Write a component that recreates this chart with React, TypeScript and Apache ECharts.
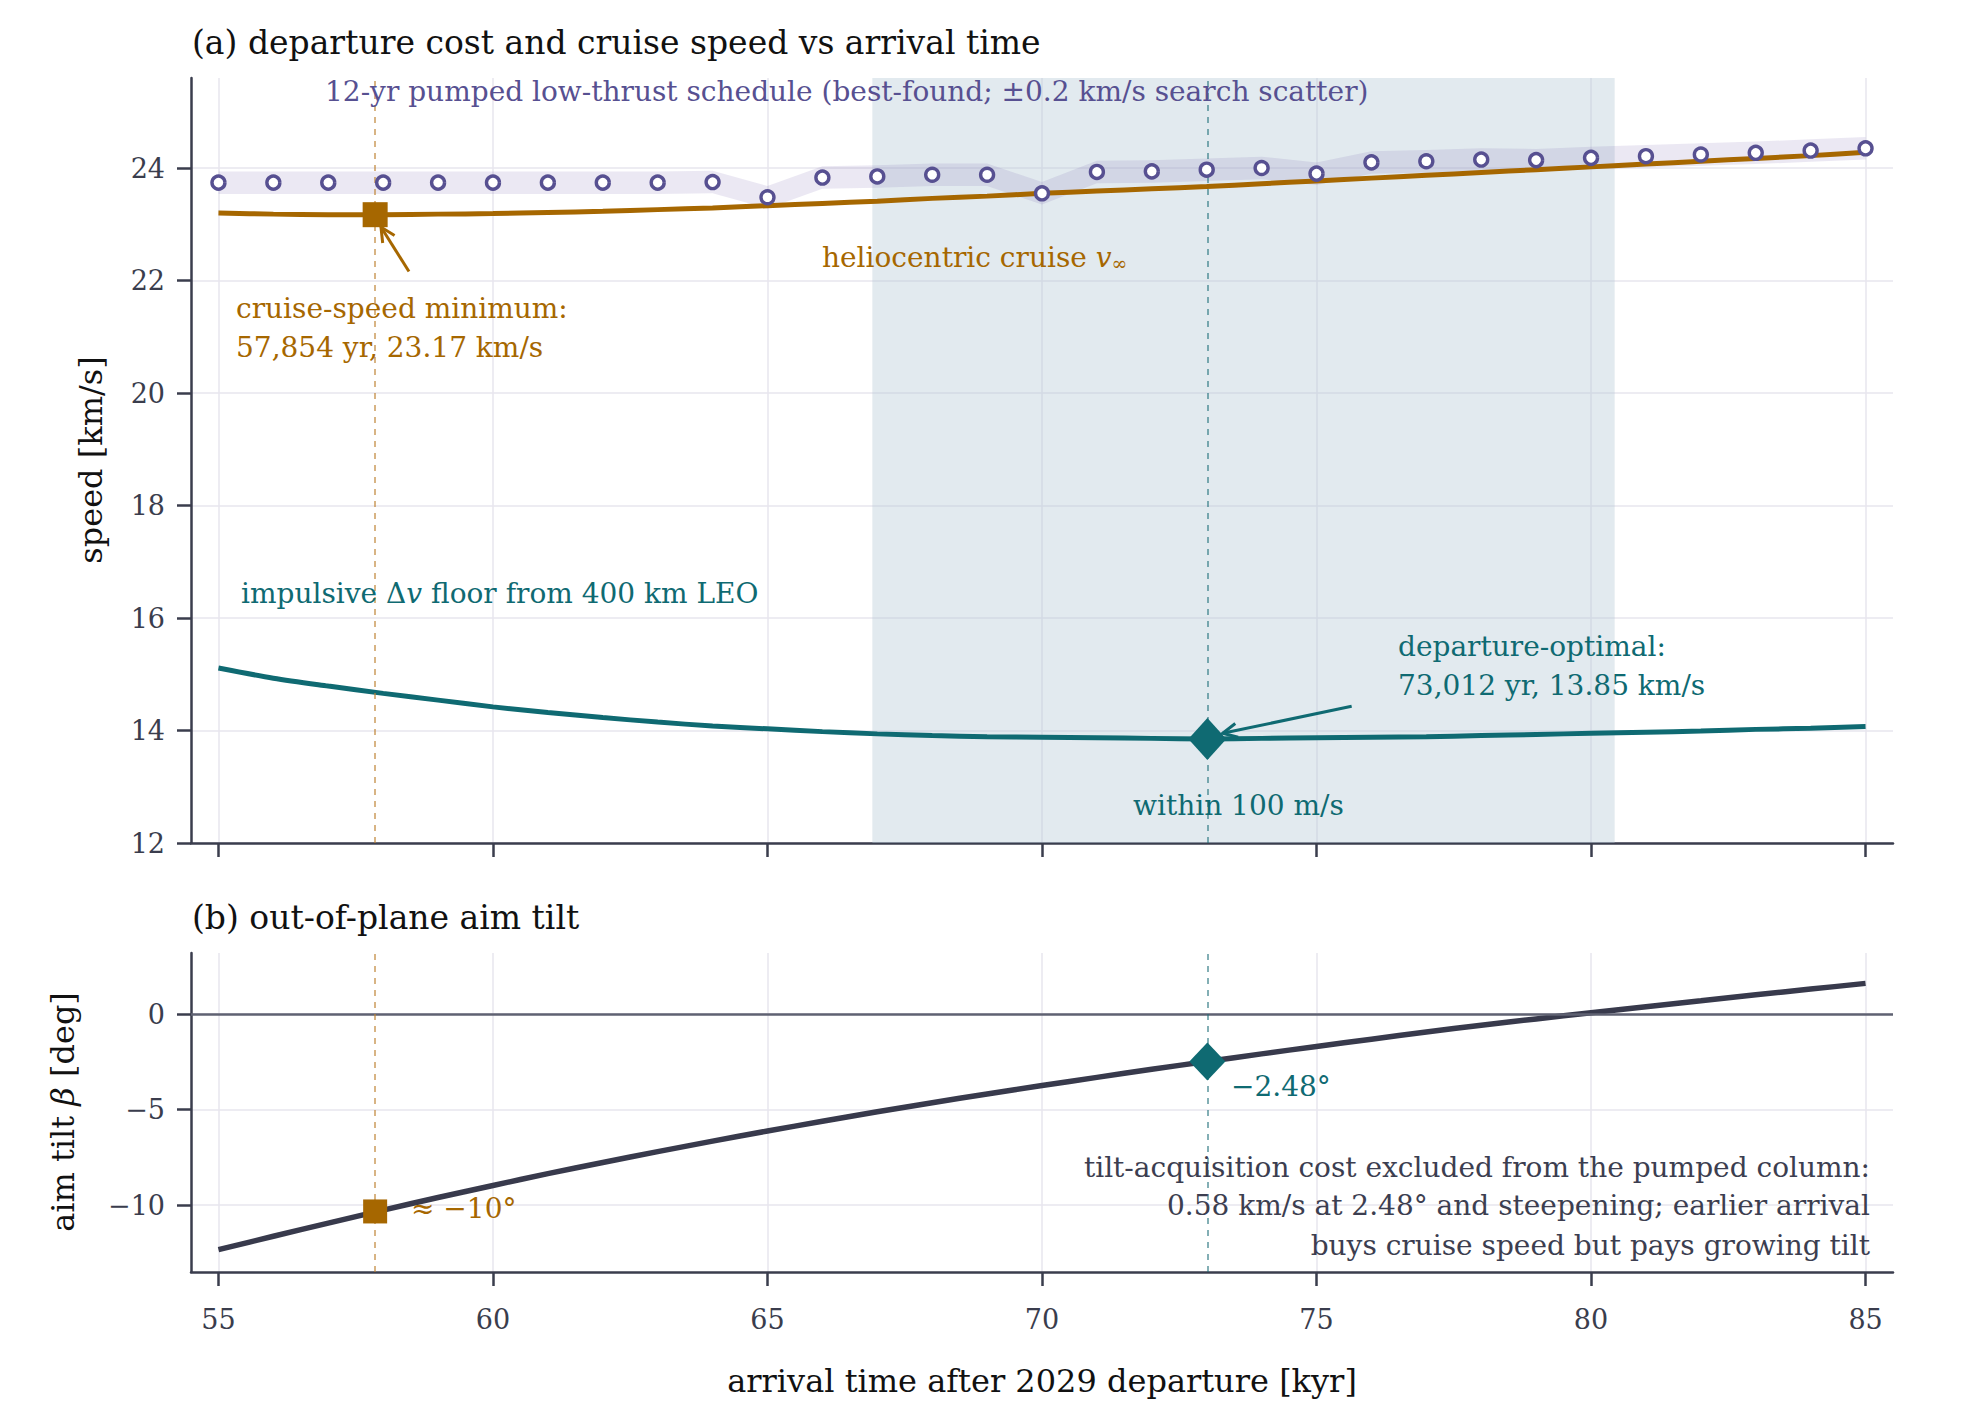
import React, { useEffect, useRef } from "react";
import * as echarts from "echarts";

// ---------- data ----------
const X_TICKS = [55, 60, 65, 70, 75, 80, 85];
const SPEED_TICKS = [12, 14, 16, 18, 20, 22, 24];
const TILT_TICKS = [-10, -5, 0];

const ARRIVAL_KYR = [55, 56, 57, 58, 59, 60, 61, 62, 63, 64, 65, 66, 67, 68, 69, 70, 71, 72, 73, 74, 75, 76, 77, 78, 79, 80, 81, 82, 83, 84, 85];
const CRUISE_VINF = [23.2, 23.18, 23.17, 23.17, 23.18, 23.19, 23.21, 23.23, 23.26, 23.29, 23.33, 23.37, 23.41, 23.46, 23.5, 23.55, 23.59, 23.63, 23.67, 23.72, 23.77, 23.82, 23.87, 23.92, 23.97, 24.02, 24.07, 24.12, 24.17, 24.22, 24.28];
const DV_FLOOR = [15.11, 14.93, 14.79, 14.66, 14.54, 14.42, 14.32, 14.23, 14.15, 14.08, 14.03, 13.98, 13.94, 13.91, 13.89, 13.88, 13.87, 13.86, 13.85, 13.86, 13.87, 13.88, 13.89, 13.91, 13.93, 13.95, 13.97, 13.99, 14.02, 14.04, 14.07];
const PUMPED = [23.74, 23.74, 23.74, 23.74, 23.74, 23.74, 23.74, 23.74, 23.74, 23.75, 23.48, 23.83, 23.85, 23.88, 23.88, 23.55, 23.93, 23.94, 23.97, 24.0, 23.9, 24.1, 24.12, 24.15, 24.14, 24.18, 24.21, 24.24, 24.27, 24.31, 24.35];
const PUMPED_SCATTER = 0.2;
const TILT = [-12.33, -11.63, -10.94, -10.26, -9.6, -8.97, -8.35, -7.77, -7.2, -6.65, -6.12, -5.61, -5.11, -4.64, -4.18, -3.74, -3.31, -2.89, -2.48, -2.08, -1.69, -1.31, -0.94, -0.58, -0.25, 0.07, 0.39, 0.7, 1.01, 1.31, 1.61];

const CRUISE_MIN = [57.854, 23.17];
const DEP_OPT = [73.012, 13.85];
const TILT_AT_MIN = [57.854, -10.33];
const TILT_AT_OPT = [73.012, -2.48];
const WITHIN_100 = [66.91, 80.43];

const ARROW_MIN = { from: [58.47, 22.16], to: [57.96, 22.95] };
const ARROW_OPT = { from: [75.64, 14.43], to: [73.29, 13.95] };

// ---------- style ----------
const FONT = "'DejaVu Serif', serif";
const ORANGE = "#a66700";
const TEAL = "#0f6a72";
const PURPLE = "#575091";
const DARK = "#383a4c";
const AXIS = "#3a3d4d";
const GRIDC = "#e7e6ee";

const fmt = (v: number) => String(v).replace("-", "\u2212");

function xAxisCfg(gridIndex: number, labels: boolean) {
  return {
    type: "value",
    gridIndex,
    min: 54.5,
    max: 85.5,
    axisLine: { show: true, onZero: false, lineStyle: { color: AXIS, width: 2.5 } },
    axisTick: { show: true, length: 14, lineStyle: { color: AXIS, width: 2.5 }, customValues: X_TICKS },
    axisLabel: {
      show: labels,
      customValues: X_TICKS,
      margin: 34,
      fontFamily: FONT,
      fontSize: 27,
      color: AXIS,
    },
    splitLine: { show: true, lineStyle: { color: GRIDC, width: 1.5 } },
  };
}

function yAxisCfg(gridIndex: number, min: number, max: number, ticks: number[]) {
  return {
    type: "value",
    gridIndex,
    min,
    max,
    axisLine: { show: true, onZero: false, lineStyle: { color: AXIS, width: 2.5 } },
    axisTick: { show: true, length: 14, lineStyle: { color: AXIS, width: 2.5 }, customValues: ticks },
    axisLabel: {
      customValues: ticks,
      margin: 26,
      fontFamily: FONT,
      fontSize: 27,
      color: AXIS,
      formatter: (v: number) => fmt(v),
    },
    splitLine: { show: true, lineStyle: { color: GRIDC, width: 1.5 } },
  };
}

const pairs = (ys: number[]) => ARRIVAL_KYR.map((x, i) => [x, ys[i]]);

function buildOption() {
  const dashed = (color: string) => ({ type: [6, 6], color, width: 2 });
  return {
    animation: false,
    backgroundColor: "#ffffff",
    grid: [
      { left: 191, top: 78, width: 1702, height: 765 },
      { left: 191, top: 953, width: 1702, height: 319 },
    ],
    xAxis: [xAxisCfg(0, false), xAxisCfg(1, true)],
    yAxis: [yAxisCfg(0, 12, 25.6, SPEED_TICKS), yAxisCfg(1, -13.5, 3.2, TILT_TICKS)],
    series: [
      {
        type: "line",
        xAxisIndex: 0,
        yAxisIndex: 0,
        data: [[55, 12]],
        symbol: "none",
        lineStyle: { width: 0 },
        z: 1,
        silent: true,
        markArea: {
          silent: true,
          itemStyle: { color: "rgba(178,200,213,0.38)" },
          data: [[{ xAxis: WITHIN_100[0] }, { xAxis: WITHIN_100[1] }]],
        },
      },
      {
        type: "custom",
        xAxisIndex: 0,
        yAxisIndex: 0,
        z: 2,
        silent: true,
        data: ARRIVAL_KYR.map((x, i) => [x, PUMPED[i] - PUMPED_SCATTER, PUMPED[i] + PUMPED_SCATTER]),
        encode: { x: 0, y: [1, 2] },
        renderItem: (params: any, api: any) => {
          if (params.dataIndex !== 0) return null;
          const top = ARRIVAL_KYR.map((x, i) => api.coord([x, PUMPED[i] + PUMPED_SCATTER]));
          const bot = ARRIVAL_KYR.map((x, i) => api.coord([x, PUMPED[i] - PUMPED_SCATTER])).reverse();
          return {
            type: "polygon",
            shape: { points: top.concat(bot) },
            style: { fill: "rgba(115,95,170,0.14)", stroke: null },
          };
        },
      },
      {
        type: "line",
        xAxisIndex: 0,
        yAxisIndex: 0,
        data: [[55, 12]],
        symbol: "none",
        lineStyle: { width: 0 },
        z: 3,
        silent: true,
        markLine: {
          silent: true,
          symbol: ["none", "none"],
          label: { show: false },
          data: [
            { xAxis: CRUISE_MIN[0], lineStyle: dashed("rgba(190,130,50,0.6)") },
            { xAxis: DEP_OPT[0], lineStyle: dashed("rgba(30,110,120,0.55)") },
          ],
        },
      },
      {
        type: "line",
        xAxisIndex: 0,
        yAxisIndex: 0,
        data: pairs(CRUISE_VINF),
        symbol: "none",
        smooth: 0.3,
        lineStyle: { color: ORANGE, width: 5 },
        z: 4,
      },
      {
        type: "line",
        xAxisIndex: 0,
        yAxisIndex: 0,
        data: pairs(DV_FLOOR),
        symbol: "none",
        smooth: 0.3,
        lineStyle: { color: TEAL, width: 5 },
        z: 4,
      },
      {
        type: "scatter",
        xAxisIndex: 0,
        yAxisIndex: 0,
        data: pairs(PUMPED),
        symbol: "circle",
        symbolSize: 13,
        itemStyle: { color: "#ffffff", borderColor: PURPLE, borderWidth: 3.4, opacity: 1 },
        z: 5,
      },
      {
        type: "scatter",
        xAxisIndex: 0,
        yAxisIndex: 0,
        data: [CRUISE_MIN],
        symbol: "rect",
        symbolSize: 25,
        itemStyle: { color: ORANGE, opacity: 1 },
        z: 6,
      },
      {
        type: "scatter",
        xAxisIndex: 0,
        yAxisIndex: 0,
        data: [DEP_OPT],
        symbol: "diamond",
        symbolSize: [38, 42],
        itemStyle: { color: TEAL, opacity: 1 },
        z: 6,
      },
      // ---- bottom panel ----
      {
        type: "line",
        xAxisIndex: 1,
        yAxisIndex: 1,
        data: [[55, 0]],
        symbol: "none",
        lineStyle: { width: 0 },
        z: 3,
        silent: true,
        markLine: {
          silent: true,
          symbol: ["none", "none"],
          label: { show: false },
          data: [
            { yAxis: 0, lineStyle: { type: "solid", color: "#5f6272", width: 2.5 } },
            { xAxis: CRUISE_MIN[0], lineStyle: dashed("rgba(190,130,50,0.6)") },
            { xAxis: DEP_OPT[0], lineStyle: dashed("rgba(30,110,120,0.55)") },
          ],
        },
      },
      {
        type: "line",
        xAxisIndex: 1,
        yAxisIndex: 1,
        data: pairs(TILT),
        symbol: "none",
        smooth: 0.3,
        lineStyle: { color: DARK, width: 5.5 },
        z: 4,
      },
      {
        type: "scatter",
        xAxisIndex: 1,
        yAxisIndex: 1,
        data: [TILT_AT_MIN],
        symbol: "rect",
        symbolSize: 24,
        itemStyle: { color: ORANGE, opacity: 1 },
        z: 6,
      },
      {
        type: "scatter",
        xAxisIndex: 1,
        yAxisIndex: 1,
        data: [TILT_AT_OPT],
        symbol: "diamond",
        symbolSize: [36, 38],
        itemStyle: { color: TEAL, opacity: 1 },
        z: 6,
      },
    ],
  };
}

function txt(text: string, x: number, y: number, size: number, fill: string, align = "left", extra: any = {}) {
  return {
    type: "text",
    x,
    y,
    z: 100,
    silent: true,
    ...extra,
    style: {
      text,
      fill,
      fontFamily: FONT,
      fontSize: size,
      align,
      verticalAlign: "middle",
      textAlign: align,
      textVerticalAlign: "middle",
      ...(extra.style || {}),
    },
  };
}

function arrow(chart: any, grid: number, a: { from: number[]; to: number[] }, color: string) {
  const p0 = chart.convertToPixel({ gridIndex: grid }, a.from);
  const p1 = chart.convertToPixel({ gridIndex: grid }, a.to);
  const dx = p1[0] - p0[0];
  const dy = p1[1] - p0[1];
  const len = Math.hypot(dx, dy);
  const ux = dx / len;
  const uy = dy / len;
  const L = 16;
  const ang = (26 * Math.PI) / 180;
  const rot = (c: number, s: number) => [ux * c - uy * s, ux * s + uy * c];
  const r1 = rot(Math.cos(ang), Math.sin(ang));
  const r2 = rot(Math.cos(-ang), Math.sin(-ang));
  return [
    {
      type: "line",
      z: 90,
      silent: true,
      shape: { x1: p0[0], y1: p0[1], x2: p1[0], y2: p1[1] },
      style: { stroke: color, lineWidth: 3 },
    },
    {
      type: "polyline",
      z: 90,
      silent: true,
      shape: {
        points: [
          [p1[0] - r1[0] * L, p1[1] - r1[1] * L],
          [p1[0], p1[1]],
          [p1[0] - r2[0] * L, p1[1] - r2[1] * L],
        ],
      },
      style: { stroke: color, lineWidth: 3, fill: null },
    },
  ];
}

function buildGraphic(chart: any) {
  const A = 28;
  const T = 33;
  const L = 32;
  const els: any[] = [
    txt("(a) departure cost and cruise speed vs arrival time", 192, 42, T, "#111111"),
    txt("12-yr pumped low-thrust schedule (best-found; \u00b10.2 km/s search scatter)", 325, 91, A, PURPLE),
    {
      type: "text",
      x: 822,
      y: 257,
      z: 100,
      silent: true,
      style: {
        text: "{n|heliocentric cruise }{i|v}{s|\u221e}",
        fill: ORANGE,
        fontFamily: FONT,
        fontSize: A,
        align: "left",
        verticalAlign: "middle",
        rich: {
          n: { fontFamily: FONT, fontSize: A, fill: ORANGE, color: ORANGE },
          i: { fontFamily: FONT, fontSize: A, fontStyle: "italic", fill: ORANGE, color: ORANGE },
          s: { fontFamily: FONT, fontSize: 19, fill: ORANGE, color: ORANGE, padding: [12, 0, 0, 0] },
        },
      },
    },
    txt("cruise-speed minimum:", 236, 308, A, ORANGE),
    txt("57,854 yr, 23.17 km/s", 236, 347, A, ORANGE),
    {
      type: "text",
      x: 241,
      y: 593,
      z: 100,
      silent: true,
      style: {
        text: "{n|impulsive \u0394}{i|v}{n| floor from 400 km LEO}",
        fill: TEAL,
        fontFamily: FONT,
        fontSize: A,
        align: "left",
        verticalAlign: "middle",
        rich: {
          n: { fontFamily: FONT, fontSize: A, fill: TEAL, color: TEAL },
          i: { fontFamily: FONT, fontSize: A, fontStyle: "italic", fill: TEAL, color: TEAL },
        },
      },
    },
    txt("departure-optimal:", 1398, 646, A, TEAL),
    txt("73,012 yr, 13.85 km/s", 1398, 685, A, TEAL),
    txt("within 100 m/s", 1133, 805, A, TEAL),
    txt("(b) out-of-plane aim tilt", 192, 917, T, "#111111"),
    txt("\u22122.48\u00b0", 1231, 1086, A, TEAL),
    txt("\u2248 \u221210\u00b0", 411, 1208, A, ORANGE),
    txt("tilt-acquisition cost excluded from the pumped column:", 1870, 1167, A, "#3c3e50", "right"),
    txt("0.58 km/s at 2.48\u00b0 and steepening; earlier arrival", 1870, 1205, A, "#3c3e50", "right"),
    txt("buys cruise speed but pays growing tilt", 1870, 1245, A, "#3c3e50", "right"),
    txt("arrival time after 2029 departure [kyr]", 1042, 1381, L, "#111111", "center"),
    txt("speed [km/s]", 91, 460, L, "#111111", "center", { rotation: Math.PI / 2 }),
    {
      type: "text",
      x: 63,
      y: 1112,
      rotation: Math.PI / 2,
      z: 100,
      silent: true,
      style: {
        text: "{n|aim tilt }{i|\u03b2}{n| [deg]}",
        fill: "#111111",
        fontFamily: FONT,
        fontSize: L,
        align: "center",
        verticalAlign: "middle",
        rich: {
          n: { fontFamily: FONT, fontSize: L, fill: "#111111", color: "#111111" },
          i: { fontFamily: FONT, fontSize: L, fontStyle: "italic", fill: "#111111", color: "#111111" },
        },
      },
    },
    ...arrow(chart, 0, ARROW_MIN, ORANGE),
    ...arrow(chart, 0, ARROW_OPT, TEAL),
  ];
  return els;
}

export default function App() {
  const ref = useRef<HTMLDivElement>(null);
  useEffect(() => {
    if (!ref.current) return;
    const chart = echarts.init(ref.current, undefined, { renderer: "svg" });
    chart.setOption(buildOption() as any);
    chart.setOption({ graphic: buildGraphic(chart) } as any);
    return () => chart.dispose();
  }, []);
  return (
    <div
      ref={ref}
      style={{ position: "absolute", left: 0, top: 0, width: 1978, height: 1414, background: "#fff" }}
    />
  );
}
